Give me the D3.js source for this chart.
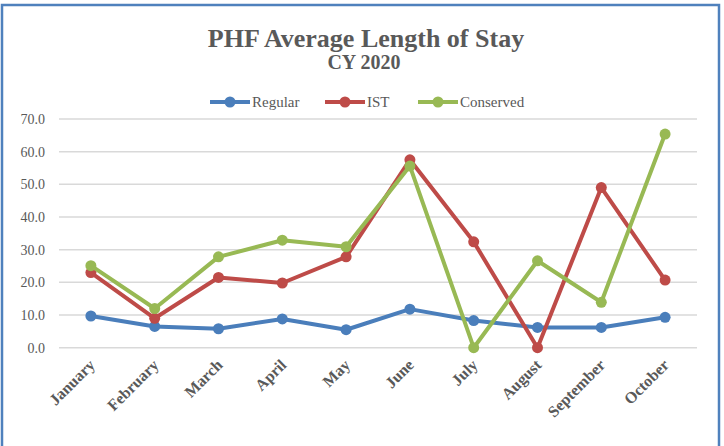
<!DOCTYPE html>
<html><head><meta charset="utf-8">
<script src="https://cdn.jsdelivr.net/npm/d3@7"></script>
<style>body{margin:0;background:#fff}svg{display:block}</style>
</head><body>
<script>
const categories = ["January","February","March","April","May","June","July","August","September","October"];
const regular   = [9.7, 6.5, 5.8, 8.8, 5.5, 11.8, 8.3, 6.2, 6.2, 9.3];
const ist       = [23.0, 9.0, 21.5, 19.8, 27.8, 57.5, 32.4, 0.0, 49.0, 20.7];
const conserved = [25.1, 12.0, 27.8, 32.9, 30.9, 55.6, 0.0, 26.6, 13.9, 65.4];
const yTicks = [0,10,20,30,40,50,60,70];
const seriesNames = ["Regular","IST","Conserved"];
const seriesColors = ["#4a7ebb","#be4b48","#98b954"];
const title = "PHF Average Length of Stay";
const subtitle = "CY 2020";

const W = 724, H = 446;
const svg = d3.select("body").append("svg").attr("width", W).attr("height", H);
const serif = "'Liberation Serif','DejaVu Serif',serif";
const grey = "#595959";

svg.append("rect").attr("x",2).attr("y",5).attr("width",717).attr("height",460)
  .attr("fill","#fff").attr("stroke","#4f81bd").attr("stroke-width",2.5);

svg.append("text").attr("x",366).attr("y",47).attr("text-anchor","middle")
  .attr("font-family",serif).attr("font-weight","bold").attr("font-size",26)
  .attr("fill",grey).text(title);
svg.append("text").attr("x",364).attr("y",69).attr("text-anchor","middle")
  .attr("font-family",serif).attr("font-weight","bold").attr("font-size",20)
  .attr("fill",grey).text(subtitle);

const x = d3.scaleBand().domain(categories).range([59,697]);
const y = d3.scaleLinear().domain([0,70]).range([347.7,119]);

const grid = svg.append("g");
grid.selectAll("line").data(yTicks).join("line")
  .attr("x1",59).attr("x2",697).attr("y1",d=>y(d)).attr("y2",d=>y(d))
  .attr("stroke","#d9d9d9").attr("stroke-width",1.5);

const yAxis = svg.append("g").attr("transform","translate(59,0)")
  .call(d3.axisLeft(y).tickValues(yTicks).tickFormat(d3.format(".1f")).tickSize(0).tickPadding(14));
yAxis.select(".domain").remove();
yAxis.selectAll("text").attr("font-family",serif).attr("font-size",14).attr("fill",grey);

const xAxis = svg.append("g").attr("transform","translate(0,350)")
  .call(d3.axisBottom(x).tickSize(0).tickPadding(0));
xAxis.select(".domain").remove();
xAxis.selectAll("text").attr("font-family",serif).attr("font-size",16).attr("font-weight","bold")
  .attr("fill",grey).attr("text-anchor","end").attr("dy",0)
  .attr("transform","translate(5,16) rotate(-45)");

const data = [regular, ist, conserved];
const line = d3.line().x((d,i)=>x(categories[i])+x.bandwidth()/2).y(d=>y(d));
data.forEach((vals,si)=>{
  const g = svg.append("g");
  g.append("path").datum(vals).attr("d",line).attr("fill","none")
    .attr("stroke",seriesColors[si]).attr("stroke-width",4).attr("stroke-linejoin","round");
  g.selectAll("circle").data(vals).join("circle")
    .attr("cx",(d,i)=>x(categories[i])+x.bandwidth()/2).attr("cy",d=>y(d))
    .attr("r",5.5).attr("fill",seriesColors[si]);
});

const legX = [210, 325, 418];
const leg = svg.append("g");
seriesNames.forEach((n,i)=>{
  const g = leg.append("g").attr("transform",`translate(${legX[i]},102)`);
  g.append("line").attr("x1",0).attr("x2",40).attr("stroke",seriesColors[i]).attr("stroke-width",4);
  g.append("circle").attr("cx",20).attr("r",5.5).attr("fill",seriesColors[i]);
  g.append("text").attr("x",42).attr("y",5).attr("font-family",serif).attr("font-size",15)
    .attr("fill",grey).text(n);
});
</script>
</body></html>
